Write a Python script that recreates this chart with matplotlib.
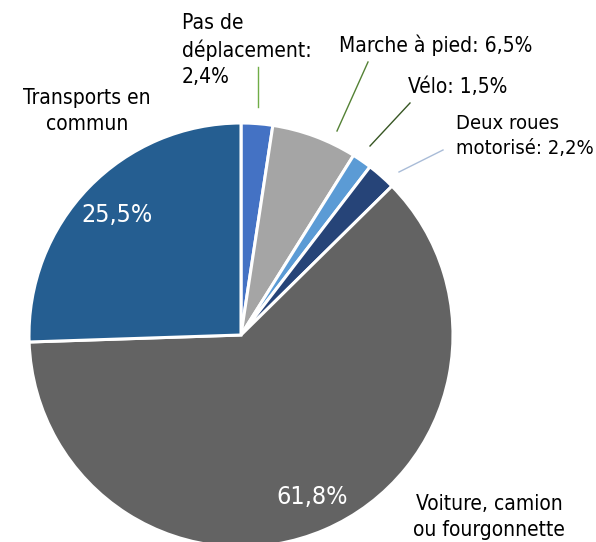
import matplotlib
matplotlib.use("Agg")
import matplotlib.pyplot as plt

plt.rcParams['font.family'] = ['DejaVu Sans']
plt.rcParams['font.stretch'] = 'condensed'

# données
categories = ["Pas de déplacement", "Marche à pied", "Vélo", "Deux roues motorisé",
              "Voiture, camion ou fourgonnette", "Transports en commun"]
values = [2.4, 6.5, 1.5, 2.2, 61.8, 25.5]
colors = ["#4472C4", "#A5A5A5", "#5B9BD5", "#264478", "#636363", "#255E91"]

W, H = 596, 542
fig = plt.figure(figsize=(W / 100, H / 100), dpi=100)
ax = fig.add_axes([0, 0, 1, 1])

# y inversé -> counterclock=True donne le sens horaire a l'écran, startangle -90 = haut
ax.pie(values, colors=colors, startangle=-90, counterclock=True,
       center=(241, 335), radius=212, frame=True,
       wedgeprops=dict(edgecolor='white', linewidth=2.2))
ax.set_xlim(0, W)
ax.set_ylim(H, 0)
ax.set_aspect('equal')
ax.axis('off')

fs = 15
ls = 1.38
ax.text(182, 50, "Pas de\ndéplacement:\n2,4%", ha='left', va='center', fontsize=fs, linespacing=ls)
ax.text(339, 45, "Marche à pied: 6,5%", ha='left', va='center', fontsize=fs)
ax.text(408, 87, "Vélo: 1,5%", ha='left', va='center', fontsize=fs)
ax.text(456, 136, "Deux roues\nmotorisé: 2,2%", ha='left', va='center', fontsize=14.5, linespacing=ls)
ax.text(87, 111, "Transports en\ncommun", ha='center', va='center', fontsize=fs, linespacing=ls)
ax.text(489, 517, "Voiture, camion\nou fourgonnette", ha='center', va='center', fontsize=fs, linespacing=ls)

ax.text(117, 215, "25,5%", ha='center', va='center', fontsize=18, color='white')
ax.text(312, 497, "61,8%", ha='center', va='center', fontsize=18, color='white')

# traits de rappel
ax.plot([258, 258], [67, 107], color="#70AD47", lw=1)
ax.plot([368, 337], [62, 131], color="#548235", lw=1)
ax.plot([410, 370], [103, 146], color="#375623", lw=1)
ax.plot([443, 399], [150, 172], color="#A9BCD8", lw=1)

fig.savefig("out.png", dpi=100)
